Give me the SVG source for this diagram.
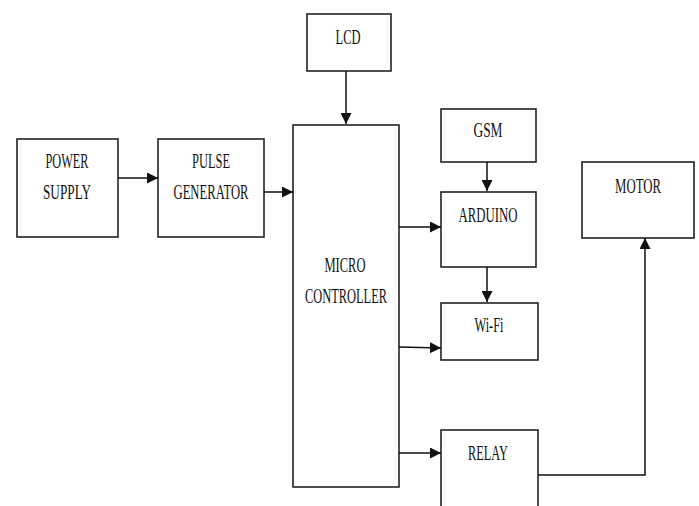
<svg xmlns="http://www.w3.org/2000/svg" width="699" height="506" viewBox="0 0 699 506">
<style>
.box{fill:#fff;stroke:#222;stroke-width:1.6}
.t{font-family:"Liberation Serif","Times New Roman",serif;font-size:21px;fill:#111;text-anchor:middle}
.c{fill:none;stroke:#111;stroke-width:1.5}
</style>
<defs>
<marker id="ah" viewBox="0 0 10 10" refX="10" refY="5" markerWidth="11" markerHeight="11" markerUnits="userSpaceOnUse" orient="auto">
<path d="M0,0 L10,5 L0,10 z" fill="#111"/>
</marker>
</defs>
<rect width="699" height="506" fill="#fff"/>
<g id="power">
<rect class="box" x="17" y="139" width="101" height="98"/>
<text class="t" x="67" y="168" textLength="43" lengthAdjust="spacingAndGlyphs">POWER</text>
<text class="t" x="67" y="199" textLength="48" lengthAdjust="spacingAndGlyphs">SUPPLY</text>
</g>
<g id="pulse">
<rect class="box" x="158" y="139" width="106" height="98"/>
<text class="t" x="211" y="168" textLength="38" lengthAdjust="spacingAndGlyphs">PULSE</text>
<text class="t" x="211" y="199" textLength="75" lengthAdjust="spacingAndGlyphs">GENERATOR</text>
</g>
<g id="micro">
<rect class="box" x="293" y="125" width="106" height="362"/>
<text class="t" x="345" y="272" textLength="41" lengthAdjust="spacingAndGlyphs">MICRO</text>
<text class="t" x="346" y="303" textLength="82" lengthAdjust="spacingAndGlyphs">CONTROLLER</text>
</g>
<g id="lcd">
<rect class="box" x="307" y="14" width="84" height="57"/>
<text class="t" x="348" y="44" textLength="25" lengthAdjust="spacingAndGlyphs">LCD</text>
</g>
<g id="gsm">
<rect class="box" x="441" y="109" width="95" height="53"/>
<text class="t" x="488" y="137" textLength="29" lengthAdjust="spacingAndGlyphs">GSM</text>
</g>
<g id="arduino">
<rect class="box" x="441" y="192" width="95" height="75"/>
<text class="t" x="488" y="222" textLength="59" lengthAdjust="spacingAndGlyphs">ARDUINO</text>
</g>
<g id="wifi">
<rect class="box" x="441" y="303" width="97" height="57"/>
<text class="t" x="489" y="332" textLength="29" lengthAdjust="spacingAndGlyphs">Wi-Fi</text>
</g>
<g id="relay">
<rect class="box" x="441" y="430" width="97" height="90"/>
<text class="t" x="488" y="460" textLength="40" lengthAdjust="spacingAndGlyphs">RELAY</text>
</g>
<g id="motor">
<rect class="box" x="582" y="162" width="112" height="76"/>
<text class="t" x="638" y="193" textLength="46" lengthAdjust="spacingAndGlyphs">MOTOR</text>
</g>
<g id="connectors">
<line class="c" x1="118" y1="178" x2="158" y2="178" marker-end="url(#ah)"/>
<line class="c" x1="264" y1="192" x2="293" y2="192" marker-end="url(#ah)"/>
<line class="c" x1="346" y1="71" x2="346" y2="124" marker-end="url(#ah)"/>
<line class="c" x1="487" y1="162" x2="487" y2="191" marker-end="url(#ah)"/>
<line class="c" x1="399" y1="227" x2="441" y2="227" marker-end="url(#ah)"/>
<line class="c" x1="487" y1="267" x2="487" y2="302" marker-end="url(#ah)"/>
<line class="c" x1="399" y1="347" x2="441" y2="348" marker-end="url(#ah)"/>
<line class="c" x1="399" y1="453" x2="441" y2="453" marker-end="url(#ah)"/>
<polyline class="c" points="538,475 645,475 645,238" marker-end="url(#ah)"/>
</g>
</svg>
